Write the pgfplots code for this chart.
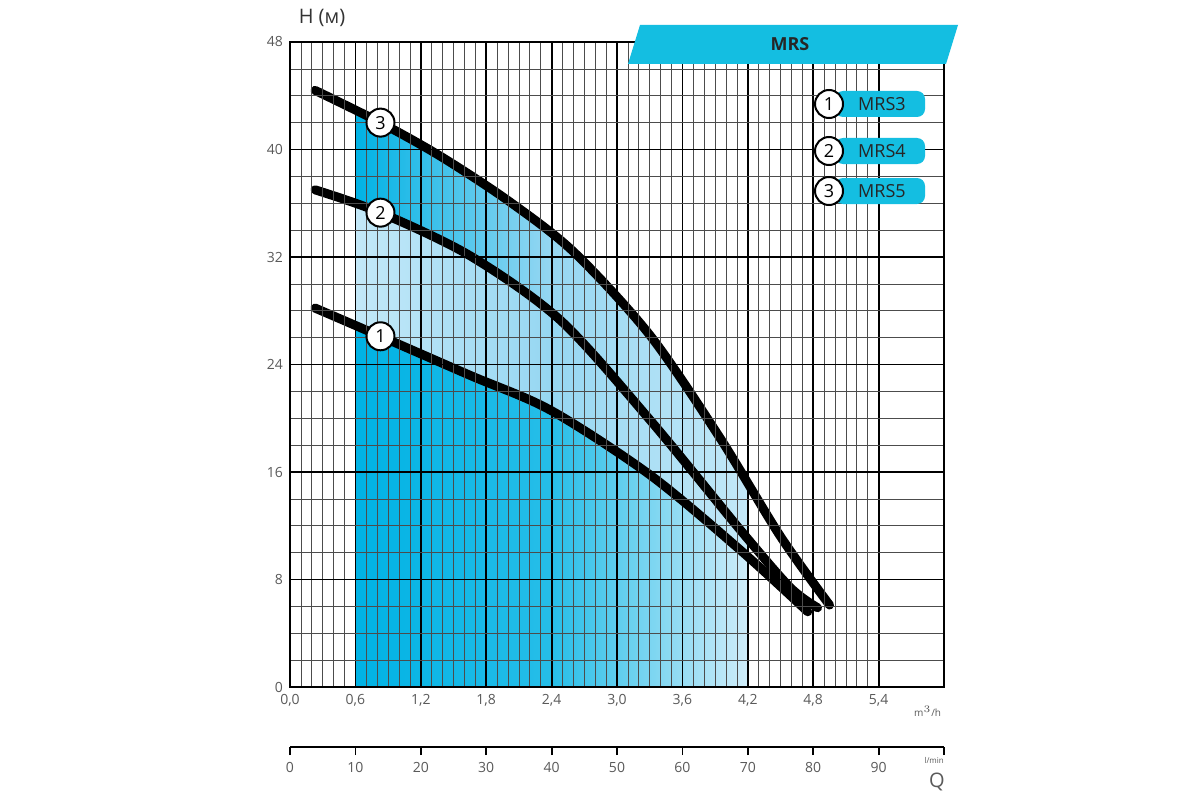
\documentclass[border=0pt]{standalone}
\usepackage{pgfplots}
\pgfplotsset{compat=1.18}
\usepackage{fontspec}
\setmainfont{Open Sans}
\definecolor{cy}{RGB}{0,178,228}
\definecolor{cyl}{RGB}{195,232,248}
\definecolor{cym}{RGB}{150,215,242}
\definecolor{ban}{RGB}{20,190,225}
\definecolor{tk}{RGB}{90,90,90}
\begin{document}
\begin{tikzpicture}[x=0.5pt,y=0.5pt]
\path[fill=white] (0,0) rectangle (1200,800);
\begin{axis}[at={(145pt,56.5pt)},anchor=south west,scale only axis,
 width=327pt,height=322.5pt,xmin=0,xmax=6,ymin=0,ymax=48,
 xtick={0,0.6,...,5.5},ytick={0,8,...,48},
 minor x tick num=5, minor y tick num=3,
 grid=both, major grid style={black,line width=0.9pt},
 minor grid style={black!70,line width=0.35pt},
 axis line style={black,line width=1.2pt},
 tick style={black,line width=0.9pt}, major tick length=4pt,
 minor tick length=0pt, ytick style={draw=none},
 xticklabels={0{,}0,0{,}6,1{,}2,1{,}8,2{,}4,3{,}0,3{,}6,4{,}2,4{,}8,5{,}4},
 yticklabels={0,8,16,24,32,40,48},
 tick label style={font=\fontsize{7}{8}\selectfont,text=tk},
 /pgf/number format/assume math mode=true,
 axis on top, clip=false,
 crv/.style={black,line width=4.5pt,line cap=round,line join=round,smooth}]
\addplot[draw=none,left color=cy,right color=cyl,middle color=cym] coordinates {(0.6,0)(0.6,42.9)(0.83,42.0)(1.38,39.5)(2.0,36.2)(2.6,32.4)(3.30,26.2)(3.94,18.6)(4.2,15.2)(4.2,0)} -- cycle;
\addplot[draw=none,left color=cyl,right color=cyl,middle color=cym] coordinates {(0.6,0)(0.6,36.0)(0.83,35.3)(1.65,32.1)(2.48,27.3)(3.30,19.9)(4.13,11.7)(4.2,11.1)(4.2,0)} -- cycle;
\addplot[draw=none,left color=cy,right color=cyl!80,middle color=cy!85] coordinates {(0.6,0)(0.6,27.0)(0.83,26.1)(1.65,23.2)(2.39,20.6)(3.30,15.8)(4.13,10.2)(4.2,9.8)(4.2,0)} -- cycle;
\addplot[crv] coordinates {(0.23,44.4)(0.83,42.0)(1.38,39.5)(2.0,36.2)(2.6,32.4)(3.30,26.2)(3.94,18.6)(4.50,11.2)(4.95,6.1)};
\addplot[crv] coordinates {(0.23,37.0)(0.83,35.3)(1.65,32.1)(2.48,27.3)(3.30,19.9)(4.13,11.7)(4.59,7.4)(4.84,5.9)};
\addplot[crv] coordinates {(0.23,28.2)(0.83,26.1)(1.65,23.2)(2.39,20.6)(3.30,15.8)(4.13,10.2)(4.75,5.6)};
\coordinate (c3) at (axis cs:0.83,42.0);
\coordinate (c2) at (axis cs:0.83,35.3);
\coordinate (c1) at (axis cs:0.83,26.1);
\node[font=\fontsize{5}{5}\selectfont,text=tk] at (axis cs:5.85,-1.8) {m$^3$/h};
\end{axis}
\foreach \c/\n in {c3/3,c2/2,c1/1}{
\node[circle,draw=black,line width=1pt,fill=white,inner sep=0pt,minimum size=14pt,font=\fontsize{9}{10}\selectfont] at (\c) {\n};}
\begin{axis}[at={(145pt,26.5pt)},anchor=south west,scale only axis,
 width=327pt,height=1pt,xmin=0,xmax=100,ymin=0,ymax=1,
 axis x line=bottom,axis y line=none,
 axis line style={black,line width=1.4pt,-},
 xtick={0,10,...,100},xticklabels={0,10,20,30,40,50,60,70,80,90,},
 tick style={black,line width=0.9pt},major tick length=4pt,
 tick align=outside,
 tick label style={font=\fontsize{7}{8}\selectfont,text=tk},
 /pgf/number format/assume math mode=true,clip=false]
\node[font=\fontsize{4}{5}\selectfont,text=tk] at (axis cs:98.5,-0.5) [yshift=-6pt] {l/min};
\end{axis}
\node[font=\fontsize{10}{12}\selectfont,text=tk] at (937,18) {Q};
\node[font=\fontsize{10}{12}\selectfont,text=black!80] at (322,782) {H (м)};
\fill[ban] (640,775) -- (958,775) -- (946,736) -- (628,736) -- cycle;
\node[font=\bfseries\fontsize{9}{10}\selectfont,text=black!85] at (790,755.5) {MRS};
\foreach \yy/\n/\m in {696/1/3,649/2/4,609/3/5}{
 \fill[ban,rounded corners=4pt] (835,\yy-13) rectangle (925,\yy+13);
 \node[font=\fontsize{9}{10}\selectfont,text=black!85] at (882,\yy) {MRS\m};
 \node[circle,draw=black,line width=1pt,fill=white,inner sep=0pt,minimum size=14pt,font=\fontsize{9}{10}\selectfont] at (829,\yy) {\n};
}
\end{tikzpicture}
\end{document}
